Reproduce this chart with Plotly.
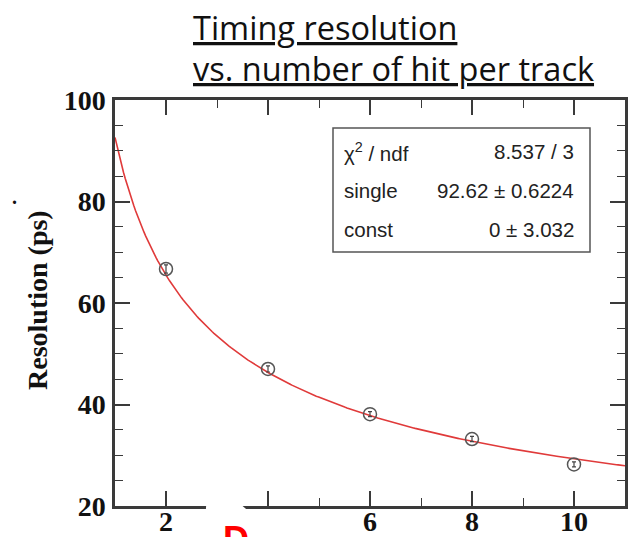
import numpy as np
import plotly.graph_objects as go

# Data
hits = [2, 4, 6, 8, 10]
resolution = [66.7, 47.0, 38.1, 33.2, 28.2]
res_err = [0.8, 0.6, 0.5, 0.5, 0.5]

# Fit parameters (from stats box)
fit_single = 92.62
fit_const = 0.0
stat_labels = ["\u03c7<sup>2</sup> / ndf", "single", "const"]
stat_values = ["8.537 / 3", "92.62 \u00b1 0.6224", "0 \u00b1 3.032"]

x_ticks = [2, 4, 6, 8, 10]
x_ticktext = ["2", "", "6", "8", "10"]   # label "4" is hidden by an overlay in the source
y_ticks = [20, 40, 60, 80, 100]

fx = np.linspace(1, 11, 300)
fy = np.sqrt(fit_single**2 / fx + fit_const**2)

# Plot-area geometry in pixels (for placing annotations)
L, R, T, B = 115, 625, 100, 506
W, H = R - L, B - T


def px(x):
    return (x - L) / W


def py(y):
    return (B - y) / H


fig = go.Figure()
fig.add_trace(go.Scatter(x=fx, y=fy, mode="lines",
                         line=dict(color="#e03a3a", width=1.6),
                         hoverinfo="skip", showlegend=False))
fig.add_trace(go.Scatter(x=hits, y=resolution, mode="markers",
                         marker=dict(symbol="circle-open", size=13,
                                     color="#555555", line=dict(width=1.5)),
                         error_y=dict(type="data", array=res_err, color="#444444",
                                      thickness=1.2, width=2),
                         showlegend=False))

axis_font = dict(family="Liberation Serif, Times New Roman, serif", size=28,
                 color="#111111", weight="bold")

fig.update_xaxes(range=[1, 11], tickvals=x_ticks, showticklabels=False,
                 ticks="inside", ticklen=15, tickwidth=1.5, tickcolor="#3a3a3a",
                 minor=dict(dtick=1, tick0=1, ticks="inside", ticklen=8,
                            tickwidth=1.2, tickcolor="#3a3a3a"),
                 showline=True, linecolor="#3a3a3a", linewidth=2.5, mirror="ticks",
                 showgrid=False, zeroline=False, automargin=False)
fig.update_yaxes(range=[20, 100], tickvals=y_ticks,
                 ticks="inside", ticklen=15, tickwidth=1.5, tickcolor="#3a3a3a",
                 minor=dict(dtick=5, tick0=0, ticks="inside", ticklen=8,
                            tickwidth=1.2, tickcolor="#3a3a3a"),
                 showline=True, linecolor="#3a3a3a", linewidth=2.5, mirror="ticks",
                 showgrid=False, zeroline=False, automargin=False,
                 tickfont=axis_font, ticklabelstandoff=1)

ann = []
# x tick labels (placed as annotations to sit close to the axis)
for tv, tt in zip(x_ticks, x_ticktext):
    if tt:
        ann.append(dict(xref="x", yref="paper", x=tv, y=py(504),
                        xanchor="center", yanchor="top", showarrow=False,
                        text=tt, font=axis_font))
# Title (two underlined lines)
title_font = dict(family="Open Sans, Noto Sans, sans-serif", size=32.5, color="#111111")
ann.append(dict(xref="paper", yref="paper", x=px(191), y=py(3),
                xanchor="left", yanchor="top", showarrow=False,
                text="<u>Timing resolution</u>", font=title_font))
ann.append(dict(xref="paper", yref="paper", x=px(191), y=py(44),
                xanchor="left", yanchor="top", showarrow=False,
                text="<u>vs. number of hit per track</u>", font=title_font))
# Y title
ann.append(dict(xref="paper", yref="paper", x=px(37), y=py(300),
                xanchor="center", yanchor="middle", showarrow=False, textangle=-90,
                text="<b>Resolution (ps)</b>",
                font=dict(family="Liberation Serif, Times New Roman, serif", size=28,
                          color="#111111")))
# stray dot
ann.append(dict(xref="paper", yref="paper", x=px(14), y=py(197),
                xanchor="center", yanchor="middle", showarrow=False, text="<b>.</b>",
                font=dict(family="Liberation Serif", size=20, color="#111111")))
# Stats box text
stat_font = dict(family="Liberation Sans, Arial, sans-serif", size=20.5, color="#222222")
rows_y = [152, 190, 229]
for lab, val, yy in zip(stat_labels, stat_values, rows_y):
    ann.append(dict(xref="paper", yref="paper", x=px(342), y=py(yy),
                    xanchor="left", yanchor="middle", showarrow=False, text=lab, font=stat_font))
    ann.append(dict(xref="paper", yref="paper", x=px(576), y=py(yy),
                    xanchor="right", yanchor="middle", showarrow=False, text=val, font=stat_font))
# red partial letter at bottom (overlay remnant)
ann.append(dict(xref="paper", yref="paper", x=px(236), y=py(517),
                xanchor="center", yanchor="top", showarrow=False, text="<b>D</b>",
                font=dict(family="Liberation Sans, Arial", size=36, color="#ff0000")))

shapes = [
    dict(type="rect", xref="paper", yref="paper",
         x0=px(333), x1=px(590), y0=py(252), y1=py(128),
         line=dict(color="#555555", width=1.5), fillcolor="white", layer="above"),
    # white overlay patch covering part of the bottom axis
    dict(type="path", xref="paper", yref="paper",
         path="M {a},{b} L {c},{b} Q {d},{e} {f},{g} L {h},{i} Z".format(
             a=px(205), b=py(522), c=px(262), d=px(242), e=py(506),
             f=px(236), g=py(500), h=px(207), i=py(494)),
         line=dict(width=0), fillcolor="white", layer="above"),
]

fig.update_layout(width=631, height=537, margin=dict(l=L, r=631 - R, t=T, b=537 - B),
                  paper_bgcolor="white", plot_bgcolor="white",
                  annotations=ann, shapes=shapes, showlegend=False)

fig.write_html("out.html")
